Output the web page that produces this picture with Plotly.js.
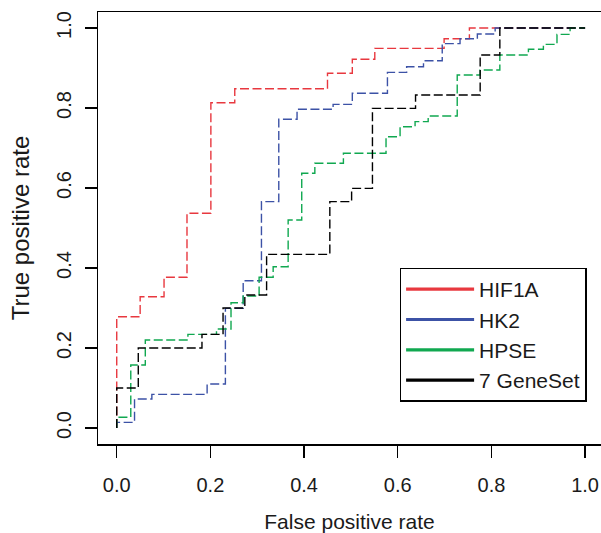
<!DOCTYPE html>
<html>
<head>
<meta charset="utf-8">
<script src="https://cdn.plot.ly/plotly-3.0.1.min.js"></script>
<style>
html,body{margin:0;padding:0;background:#fff;}
#chart{width:601px;height:533px;}
</style>
</head>
<body>
<div id="chart"></div>
<script>
// ROC curves (step points: fpr at end of each horizontal run, tpr level)
const seriesNames = ["HIF1A", "HK2", "HPSE", "7 GeneSet"];
const seriesColors = ["#e8383f", "#3c52a6", "#10a850", "#000000"];

const fprHIF1A = [0, 0.050, 0.101, 0.150, 0.201, 0.252, 0.450, 0.503, 0.551, 0.699, 0.753, 1.0];
const tprHIF1A = [0, 0.278, 0.328, 0.377, 0.537, 0.813, 0.848, 0.887, 0.922, 0.949, 0.973, 1.0];

const fprHK2 = [0, 0.038, 0.075, 0.193, 0.232, 0.270, 0.309, 0.346, 0.385, 0.462, 0.503, 0.578, 0.619, 0.655, 0.695, 0.733, 0.770, 0.808, 1.0];
const tprHK2 = [0, 0.014, 0.0725, 0.084, 0.110, 0.299, 0.368, 0.566, 0.772, 0.797, 0.809, 0.837, 0.889, 0.903, 0.918, 0.961, 0.973, 0.985, 1.0];

const fprHPSE = [0, 0.030, 0.061, 0.152, 0.213, 0.244, 0.270, 0.304, 0.334, 0.366, 0.395, 0.423, 0.484, 0.575, 0.605, 0.637, 0.665, 0.727, 0.776, 0.818, 0.879, 0.911, 0.940, 0.968, 1.0];
const tprHPSE = [0, 0.027, 0.1575, 0.220, 0.234, 0.2475, 0.313, 0.330, 0.377, 0.403, 0.520, 0.637, 0.662, 0.687, 0.728, 0.753, 0.766, 0.780, 0.8825, 0.895, 0.9325, 0.947, 0.959, 0.984, 1.0];

const fprGeneSet = [0, 0.046, 0.182, 0.227, 0.2735, 0.320, 0.455, 0.5015, 0.546, 0.638, 0.776, 0.818, 1.0];
const tprGeneSet = [0, 0.100, 0.200, 0.234, 0.300, 0.3325, 0.434, 0.566, 0.599, 0.799, 0.8325, 0.9325, 1.0];

const xTickVals = [0, 0.2, 0.4, 0.6, 0.8, 1.0];
const xTickText = ["0.0", "0.2", "0.4", "0.6", "0.8", "1.0"];
const yTickVals = [0, 0.2, 0.4, 0.6, 0.8, 1.0];
const yTickText = ["0.0", "0.2", "0.4", "0.6", "0.8", "1.0"];

const fpr = [fprHIF1A, fprHK2, fprHPSE, fprGeneSet];
const tpr = [tprHIF1A, tprHK2, tprHPSE, tprGeneSet];

const FONT = "Liberation Sans, Arial, sans-serif";
const traces = [];
for (let i = 0; i < seriesNames.length; i++) {
  traces.push({
    x: fpr[i], y: tpr[i], type: "scatter", mode: "lines",
    line: {shape: "vh", color: seriesColors[i], width: 1.4, dash: "9px,3.5px"},
    showlegend: false, hoverinfo: "skip"
  });
}
for (let i = 0; i < seriesNames.length; i++) {
  traces.push({
    x: [null], y: [null], type: "scatter", mode: "lines", name: seriesNames[i],
    line: {color: seriesColors[i], width: 3.2}, showlegend: true
  });
}

const layout = {
  width: 601, height: 533,
  margin: {l: 98, r: 0, t: 12, b: 89, pad: 0},
  paper_bgcolor: "#fff", plot_bgcolor: "#fff",
  font: {family: FONT, color: "#1a1a1a", size: 20},
  showlegend: true,
  xaxis: {
    range: [-0.04, 1.034], tickvals: xTickVals, ticktext: xTickText,
    showgrid: false, zeroline: false, showline: true, mirror: true,
    linecolor: "#000", linewidth: 1.5, ticks: "outside", ticklen: 12, tickwidth: 1.2, tickcolor: "#000",
    ticklabelstandoff: 10,
    tickfont: {size: 20, family: FONT, color: "#1a1a1a"},
    title: {text: "False positive rate", font: {size: 21, family: FONT, color: "#1a1a1a"}, standoff: 20},
    automargin: false, fixedrange: true
  },
  yaxis: {
    range: [-0.04, 1.04], tickvals: yTickVals, ticktext: yTickText, tickangle: -90,
    showgrid: false, zeroline: false, showline: true, mirror: true,
    linecolor: "#000", linewidth: 1.5, ticks: "outside", ticklen: 12, tickwidth: 1.2, tickcolor: "#000",
    ticklabelstandoff: 6,
    tickfont: {size: 20, family: FONT, color: "#1a1a1a"},
    title: {text: "True positive rate", font: {size: 24, family: FONT, color: "#1a1a1a"}, standoff: 16},
    automargin: false, fixedrange: true
  },
  legend: {
    x: 0.6, y: 0.408, xanchor: "left", yanchor: "top",
    bgcolor: "#fff", bordercolor: "#000", borderwidth: 1.3,
    font: {size: 21, family: FONT, color: "#1a1a1a"},
    itemwidth: 68
  }
};

Plotly.newPlot("chart", traces, layout, {displayModeBar: false, staticPlot: true});
</script>
</body>
</html>
